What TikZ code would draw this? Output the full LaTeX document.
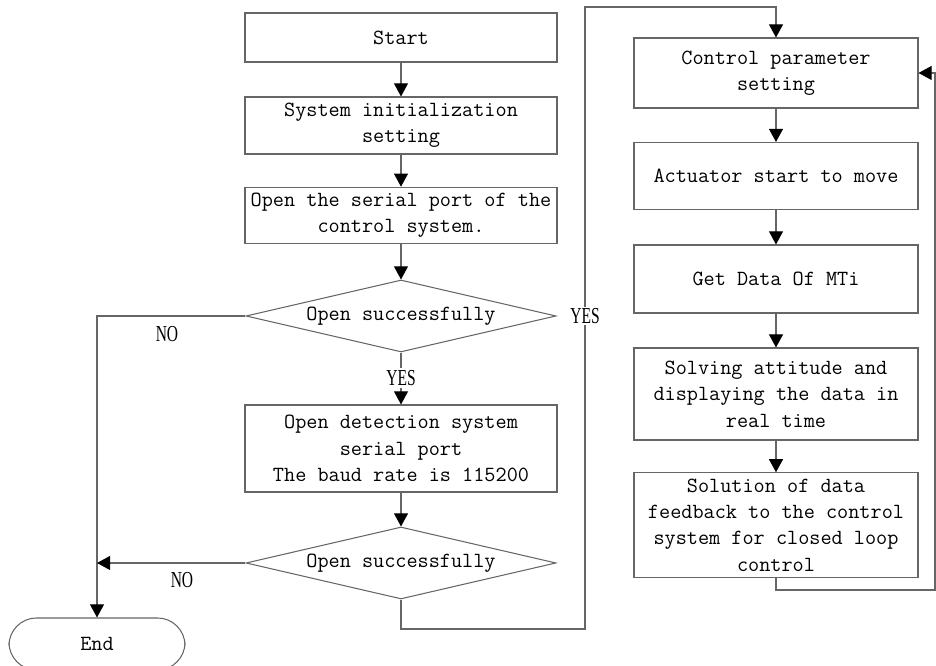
\documentclass[tikz,border=0pt]{standalone}
\usepackage{fontspec}
\newfontfamily\lblfont{Liberation Serif}
\usepackage{graphicx}
\usepackage{tikz}
\usetikzlibrary{arrows.meta, positioning, shapes.geometric}

\newcommand{\flowlbl}[1]{\scalebox{0.68}[1]{#1}}

\begin{document}
\begin{tikzpicture}[
    font=\ttfamily\fontsize{12.3}{15}\selectfont,
    line width=0.6pt,
    box/.style={draw=black!60, rectangle, align=center, inner xsep=1pt, minimum width=6.24cm},
    rbox/.style={draw=black!60, rectangle, align=center, inner xsep=1pt, minimum width=5.68cm},
    decision/.style={draw=black!60, diamond, aspect=4.3, inner sep=0pt, minimum width=6.2cm, minimum height=1.44cm},
    terminal/.style={draw=black!60, rectangle, rounded corners=0.55cm, minimum width=3.52cm, minimum height=1.04cm},
    lbl/.style={font=\lblfont\fontsize{13}{14}\selectfont, inner sep=1pt},
    arr/.style={draw=black!60, -{Triangle[length=7.5pt, width=8pt, color=black]}},
    line/.style={draw=black!60}
]
    \useasboundingbox (0,0) rectangle (18.72,13.32);

    % Nodes for the left column
    \node (start) [box, minimum height=0.98cm] at (8.02,12.57) {Start};
    \node (init) [box, minimum height=1.14cm] at (8.02,10.81) {System initialization\\setting};
    \node (serial) [box, minimum height=1.06cm] at (8.02,9.01) {Open the serial port of the\\control system.};
    \node (check1) [decision] at (8.02,7.0) {Open successfully};
    \node (yes1) [lbl] at (8.02,5.76) {\flowlbl{YES}};
    \node (detect) [box, minimum height=1.74cm] at (8.02,4.35) {Open detection system\\serial port\\The baud rate is 115200};
    \node (check2) [decision] at (8.02,2.06) {Open successfully};
    \node (finish) [terminal] at (1.94,0.44) {End};

    % Nodes for the right column
    \node (ctrl) [rbox, minimum height=1.4cm] at (15.52,11.86) {Control parameter\\setting};
    \node (actuator) [rbox, minimum height=1.34cm] at (15.52,9.8) {Actuator start to move};
    \node (getdata) [rbox, minimum height=1.36cm] at (15.52,7.74) {Get Data Of MTi};
    \node (solving) [rbox, minimum height=1.84cm] at (15.52,5.44) {Solving attitude and\\displaying the data in\\real time};
    \node (feedback) [rbox, minimum height=2.0cm] at (15.52,2.82) {Solution of data\\feedback to the control\\system for closed loop\\control};

    % Turning points of the connectors
    \coordinate (join) at (1.94,2.06);
    \coordinate (lowturn) at (11.7,0.74);
    \coordinate (topturn) at (11.7,13.18);
    \coordinate (fbturn) at (18.7,1.52);

    % Draw arrows of the left column
    \draw[arr] (start) -- (init);
    \draw[arr] (init) -- (serial);
    \draw[arr] (serial) -- (check1);
    \draw[line] (check1.south) -- (yes1.north);
    \draw[arr] (yes1.south) -- (detect.north);
    \draw[arr] (detect) -- (check2);
    \draw[arr] (check1.west) -| (finish.north);
    \draw[arr] (check2.west) -- (join);
    \node (no1) [lbl] at (3.34,6.64) {\flowlbl{NO}};
    \node (no2) [lbl] at (3.64,1.72) {\flowlbl{NO}};

    % Draw the link to the right column
    \draw[arr] (check2.south) |- (lowturn) -- (topturn) -| (ctrl.north);
    \node (yes2) [lbl, fill=white] at (11.7,7.0) {\flowlbl{YES}};

    % Draw arrows of the right column
    \draw[arr] (ctrl) -- (actuator);
    \draw[arr] (actuator) -- (getdata);
    \draw[arr] (getdata) -- (solving);
    \draw[arr] (solving) -- (feedback);
    \draw[arr] (feedback.south) |- (fbturn) |- (ctrl.east);

\end{tikzpicture}
\end{document}
